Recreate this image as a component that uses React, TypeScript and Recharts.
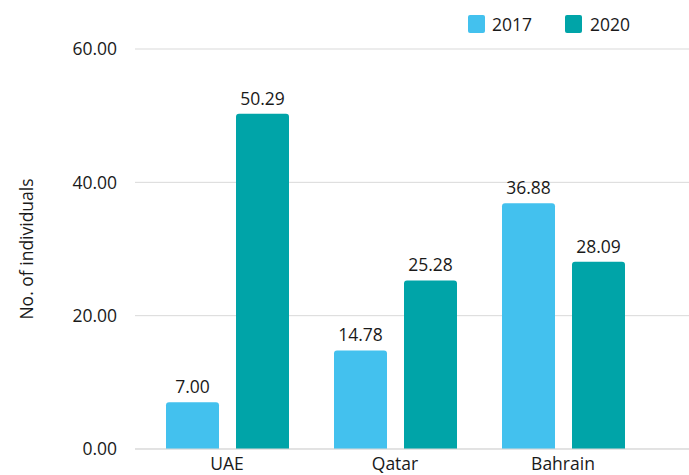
import React from 'react';
import { BarChart, Bar, XAxis, YAxis, CartesianGrid, LabelList, Legend } from 'recharts';

const categories = ['UAE', 'Qatar', 'Bahrain'];
const values2017 = [7.0, 14.78, 36.88];
const values2020 = [50.29, 25.28, 28.09];
const yTicks = [0, 20, 40, 60];

const data = categories.map((c, i) => ({ name: c, y2017: values2017[i], y2020: values2020[i] }));

const FONT = '"Open Sans", sans-serif';
const FS = 17.5;
const TXT = '#1a1a1a';
const C17 = '#43C1EE';
const C20 = '#00A4A8';

const renderLegend = () => (
  <div style={{ display: 'flex', alignItems: 'center', fontFamily: FONT, fontSize: FS, color: TXT }}>
    <span style={{ display: 'inline-block', width: 17, height: 18, background: C17, borderRadius: 2, marginRight: 7 }} />
    <span style={{ marginRight: 33 }}>2017</span>
    <span style={{ display: 'inline-block', width: 17, height: 18, background: C20, borderRadius: 2, marginRight: 8 }} />
    <span>2020</span>
  </div>
);

export default function App() {
  return (
    <div style={{ position: 'absolute', left: 0, top: 0 }}>
      <BarChart width={689} height={475} data={data} margin={{ top: 49, right: 0, bottom: 0, left: 0 }} barSize={53} barGap={17}>
        <CartesianGrid vertical={false} stroke="#d9d9d9" />
        <XAxis
          dataKey="name"
          axisLine={{ stroke: '#d9d9d9' }}
          tickLine={false}
          height={26}
          padding={{ left: 8, right: 42 }}
          tick={{ fontFamily: FONT, fontSize: FS, fill: TXT }}
          tickMargin={3}
        />
        <YAxis
          domain={[0, 60]}
          ticks={yTicks}
          width={135}
          axisLine={false}
          tickLine={false}
          tickMargin={12}
          tickFormatter={(v: number) => v.toFixed(2)}
          tick={{ fontFamily: FONT, fontSize: FS, fill: TXT }}
          label={{ value: 'No. of individuals', angle: -90, position: 'insideLeft', offset: 27, style: { fontFamily: FONT, fontSize: FS, fill: TXT, textAnchor: 'middle' } }}
        />
        <Legend verticalAlign="middle" align="center" wrapperStyle={{ top: 12, left: 468 }} content={renderLegend} />
        <Bar dataKey="y2017" name="2017" fill={C17} radius={[3, 3, 0, 0]} isAnimationActive={false}>
          <LabelList dataKey="y2017" position="top" offset={9} formatter={(v: number) => v.toFixed(2)} style={{ fontFamily: FONT, fontSize: FS, fill: TXT }} />
        </Bar>
        <Bar dataKey="y2020" name="2020" fill={C20} radius={[3, 3, 0, 0]} isAnimationActive={false}>
          <LabelList dataKey="y2020" position="top" offset={9} formatter={(v: number) => v.toFixed(2)} style={{ fontFamily: FONT, fontSize: FS, fill: TXT }} />
        </Bar>
      </BarChart>
    </div>
  );
}
